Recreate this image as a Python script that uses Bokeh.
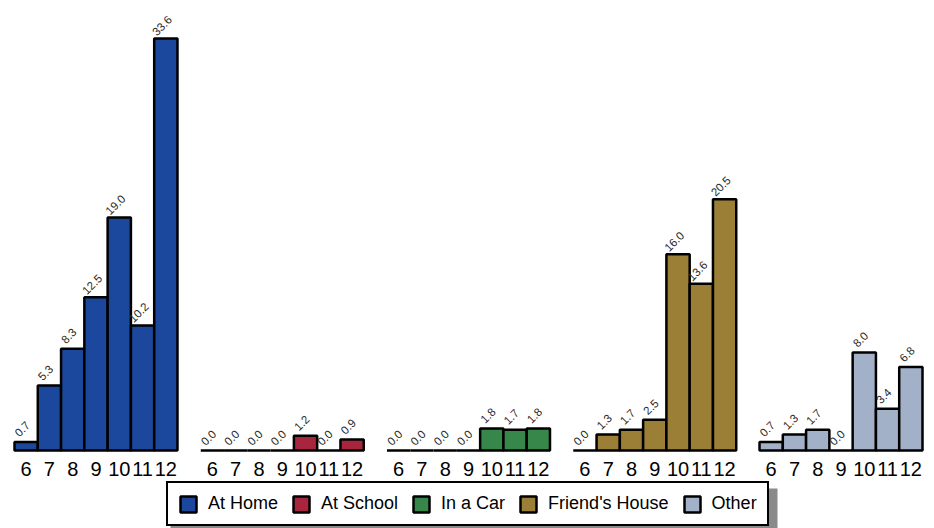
from bokeh.plotting import figure
from bokeh.models import Range1d, Legend, LegendItem, ColumnDataSource, BoxAnnotation
from bokeh.core.properties import value
from bokeh.embed import file_html
from bokeh.resources import INLINE
import math

grades = ["6", "7", "8", "9", "10", "11", "12"]
places = ["At Home", "At School", "In a Car", "Friend's House", "Other"]
at_home = [0.7, 5.3, 8.3, 12.5, 19.0, 10.2, 33.6]
at_school = [0.0, 0.0, 0.0, 0.0, 1.2, 0.0, 0.9]
in_a_car = [0.0, 0.0, 0.0, 0.0, 1.8, 1.7, 1.8]
friends_house = [0.0, 1.3, 1.7, 2.5, 16.0, 13.6, 20.5]
other = [0.7, 1.3, 1.7, 0.0, 8.0, 3.4, 6.8]
series = [at_home, at_school, in_a_car, friends_house, other]
colors = ["#1B479C", "#A8263D", "#37864A", "#9C7F36", "#A3B1C8"]

FONT = "Liberation Sans"
# layout (pixels)
FRAME_W, FRAME_H = 918, 520
unit = 908 / 39          # px per bar slot
ypx = 12.262             # px per data unit
base_px = 442            # baseline distance from frame top
x0 = -0.5 - 6 / unit
y_top = base_px / ypx
y_bot = -(FRAME_H - base_px) / ypx

p = figure(frame_width=FRAME_W, frame_height=FRAME_H,
           x_range=Range1d(x0, x0 + FRAME_W / unit), y_range=Range1d(y_bot, y_top),
           output_backend="svg", toolbar_location=None,
           x_axis_location=None, y_axis_location=None,
           min_border_left=8, min_border_right=0, min_border_top=8, min_border_bottom=0)
p.outline_line_color = None
p.xgrid.visible = False
p.ygrid.visible = False

items = []
for g, (name, vals, col) in enumerate(zip(places, series, colors)):
    xs = [g * 8 + i for i in range(len(grades))]
    src = ColumnDataSource(dict(x=xs, top=vals, grade=grades,
                                lab=["%.1f" % v for v in vals]))
    r = p.vbar(x="x", top="top", bottom=0, width=1, source=src, fill_color=col,
               line_color="black", line_width=2.5)
    p.text(x="x", y="top", text="lab", source=src, angle=math.pi / 4,
           x_offset=-1, y_offset=-10, text_align="center", text_baseline="bottom",
           text_font=value(FONT), text_font_size="11.5px", text_color="#2a2a2a")
    # category (grade) labels under each bar
    p.text(x="x", y=0, text="grade", source=src, y_offset=18,
           text_align="center", text_baseline="middle",
           text_font=value(FONT), text_font_size="20px", text_color="black")
    items.append(LegendItem(label=name, renderers=[r]))

# legend drop shadow (pixel box converted through the scales)
def px_x(px):
    return x0 + (px - 8) / unit

def px_y(py):
    return (450 - py) / ypx

shadow = BoxAnnotation(left=px_x(170), right=px_x(777), top=px_y(488), bottom=px_y(528),
                       fill_color="#8a8a8a", fill_alpha=1.0, line_color=None)
p.add_layout(shadow)

legend = Legend(items=items, orientation="horizontal", location=(158, 2),
                border_line_color="black", border_line_width=2.5, border_line_alpha=1.0,
                background_fill_color="white", background_fill_alpha=1.0,
                label_text_font=FONT, label_text_font_size="18px", label_text_color="black",
                glyph_width=20, glyph_height=20, label_height=20,
                padding=10, spacing=13, label_standoff=10, margin=0)
p.add_layout(legend, "center")

open("out.html", "w").write(file_html(p, INLINE))
